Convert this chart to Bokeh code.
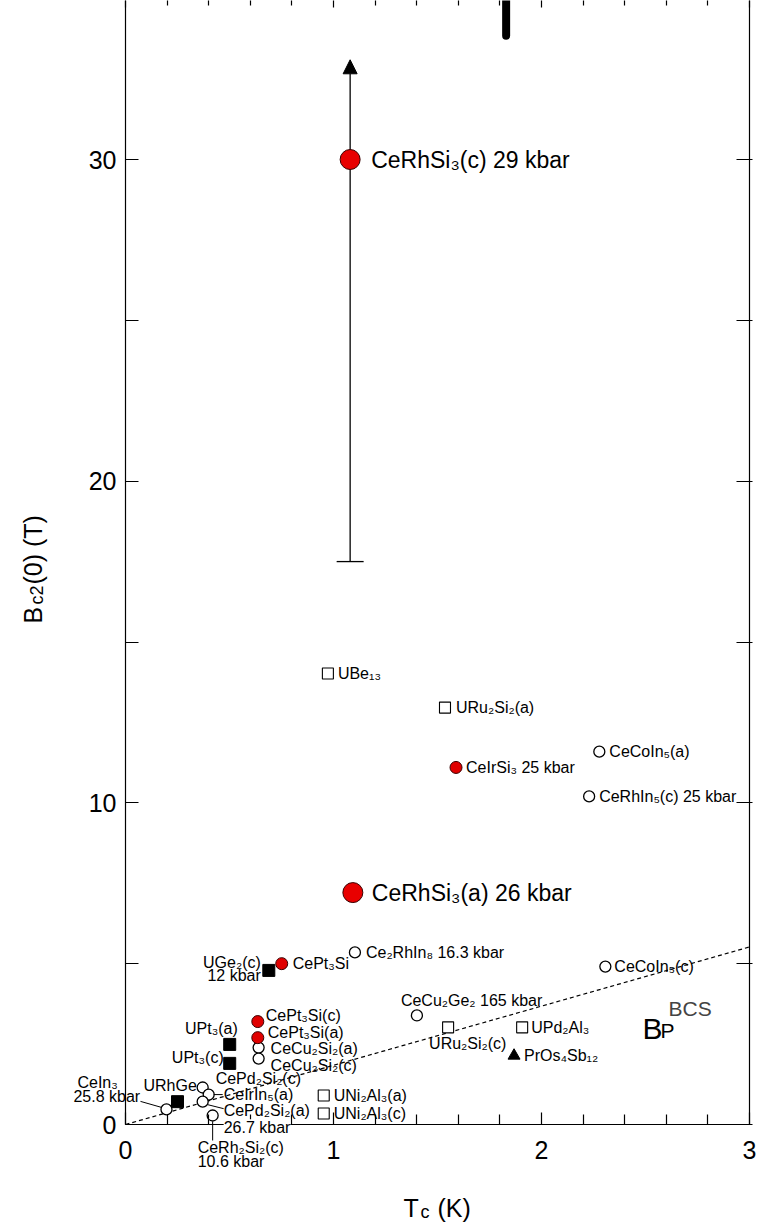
import math
from bokeh.plotting import figure
from bokeh.models import Range1d, LinearAxis, FixedTicker, Label, Arrow, NormalHead
from bokeh.embed import file_html
from bokeh.resources import INLINE

# ---------------- data ----------------
x_axis_span = [0.0, 3.0]          # Tc (K) axis extent
y_axis_span = [0.0, 35.1]         # Bc2(0) (T) axis extent (top is cut in the reference)
x_major_ticks = [0, 1, 2, 3]
x_minor_ticks = [0.2, 0.4, 0.6, 0.8, 1.2, 1.4, 1.6, 1.8, 2.2, 2.4, 2.6, 2.8]
y_major_ticks = [0, 10, 20, 30]
y_minor_ticks = [5, 15, 25, 35]

big_red_label = ["CeRhSi₃(c) 29 kbar", "CeRhSi₃(a) 26 kbar"]
big_red_tc = [1.08, 1.093]
big_red_bc2 = [30.0, 7.21]

arrow_tc = [1.08]
arrow_low = [17.5]
arrow_high = [33.1]

small_red_label = ["CeIrSi₃ 25 kbar", "CePt₃Si", "CePt₃Si(c)", "CePt₃Si(a)"]
small_red_tc = [1.589, 0.751, 0.636, 0.636]
small_red_bc2 = [11.10, 5.00, 3.20, 2.70]

open_circle_label = ["CeCoIn₅(a)", "CeRhIn₅(c) 25 kbar", "Ce₂RhIn₈ 16.3 kbar", "CeCoIn₅(c)",
                     "CeCu₂Ge₂ 165 kbar", "CeCu₂Si₂(a)", "CeCu₂Si₂(c)", "CePd₂Si₂(c)",
                     "CeIrIn₅(a)", "CePd₂Si₂(a)\n26.7 kbar", "CeRh₂Si₂(c)\n10.6 kbar", "CeIn₃\n25.8 kbar"]
open_circle_tc = [2.278, 2.229, 1.103, 2.307, 1.401, 0.640, 0.640, 0.371, 0.400, 0.371, 0.419, 0.197]
open_circle_bc2 = [11.59, 10.20, 5.35, 4.91, 3.39, 2.39, 2.05, 1.15, 0.93, 0.71, 0.28, 0.47]

open_square_label = ["UBe₁₃", "URu₂Si₂(a)", "URu₂Si₂(c)", "UPd₂Al₃", "UNi₂Al₃(a)", "UNi₂Al₃(c)"]
open_square_tc = [0.973, 1.536, 1.551, 1.907, 0.953, 0.953]
open_square_bc2 = [14.02, 12.96, 3.02, 3.02, 0.90, 0.34]

black_square_label = ["UGe₂(c)\n12 kbar", "UPt₃(a)", "UPt₃(c)", "URhGe"]
black_square_tc = [0.689, 0.501, 0.501, 0.250]
black_square_bc2 = [4.79, 2.49, 1.90, 0.71]

triangle_label = ["PrOs₄Sb₁₂"]
triangle_tc = [1.868]
triangle_bc2 = [2.14]

bcs_tc = [0.0, 3.0]
bcs_bc2 = [0.0, 5.52]

offchart_tc = [1.83]
offchart_bc2 = [33.85]

# ---------------- layout / style ----------------
FONT = "Liberation Sans"
W, H = 759, 1225
AX_LEFT_PX, AX_RIGHT_PX = 125, 749      # where Tc = 0 and Tc = 3 sit on the canvas
AX_ZERO_PX, AX_30_PX = 1124, 159        # where Bc2 = 0 and Bc2 = 30 sit on the canvas
PXX = (AX_RIGHT_PX - AX_LEFT_PX) / (x_axis_span[1] - x_axis_span[0])
PXY = (AX_ZERO_PX - AX_30_PX) / 30.0
x_lo, x_hi = -AX_LEFT_PX / PXX, (W - AX_LEFT_PX) / PXX
y_lo, y_hi = -(H - AX_ZERO_PX) / PXY, AX_ZERO_PX / PXY

# alignment, font size, one (dx, dy) pixel offset per text line (dy positive = down)
label_layout = {
    "CeRhSi₃(c) 29 kbar": ("left", "23px", [(21, 0)]),
    "CeRhSi₃(a) 26 kbar": ("left", "23px", [(19, 0)]),
    "CeIrSi₃ 25 kbar": ("left", "16px", [(10, 0)]),
    "CePt₃Si": ("left", "16px", [(11, 0)]),
    "CePt₃Si(c)": ("left", "16px", [(8, -6)]),
    "CePt₃Si(a)": ("left", "16px", [(10, -5)]),
    "CeCoIn₅(a)": ("left", "16px", [(10, 0)]),
    "CeRhIn₅(c) 25 kbar": ("left", "16px", [(10, 0)]),
    "Ce₂RhIn₈ 16.3 kbar": ("left", "16px", [(11, 0)]),
    "CeCoIn₅(c)": ("left", "16px", [(9, 0)]),
    "CeCu₂Ge₂ 165 kbar": ("left", "16px", [(-16, -15)]),
    "CeCu₂Si₂(a)": ("left", "16px", [(12, 1)]),
    "CeCu₂Si₂(c)": ("left", "16px", [(12, 7)]),
    "CePd₂Si₂(c)": ("left", "16px", [(13, -9)]),
    "CeIrIn₅(a)": ("left", "16px", [(15, 0)]),
    "CePd₂Si₂(a)\n26.7 kbar": ("left", "16px", [(21, 9), (21, 26)]),
    "CeRh₂Si₂(c)\n10.6 kbar": ("left", "16px", [(-15, 32), (-15, 46)]),
    "CeIn₃\n25.8 kbar": ("left", "16px", [(-89, -27), (-93, -13)]),
    "UBe₁₃": ("left", "16px", [(10, 0)]),
    "URu₂Si₂(a)": ("left", "16px", [(11, 0)]),
    "URu₂Si₂(c)": ("left", "16px", [(-19, 16)]),
    "UPd₂Al₃": ("left", "16px", [(9, 0)]),
    "UNi₂Al₃(a)": ("left", "16px", [(10, 0)]),
    "UNi₂Al₃(c)": ("left", "16px", [(10, 0)]),
    "UGe₂(c)\n12 kbar": ("right", "16px", [(-8, -8), (-8, 5)]),
    "UPt₃(a)": ("right", "16px", [(8, -16)]),
    "UPt₃(c)": ("right", "16px", [(-6, -6)]),
    "URhGe": ("left", "16px", [(-34, -16)]),
    "PrOs₄Sb₁₂": ("left", "16px", [(10, 0)]),
}
white_box_lines = {"26.7 kbar"}

# leader lines: (dx0, dy0, dx1, dy1) pixel offsets from the point
leader_layout = {
    "CeIrIn₅(a)": (5, 0, 14, 0),
    "CePd₂Si₂(a)\n26.7 kbar": (5, 3, 21, 7),
    "CeRh₂Si₂(c)\n10.6 kbar": (0, 6, 0, 25),
    "CeIn₃\n25.8 kbar": (-26, -8, -5, -2),
}

p = figure(width=W, height=H, x_range=Range1d(x_lo, x_hi), y_range=Range1d(y_lo, y_hi),
           output_backend="svg", toolbar_location=None, min_border=0,
           x_axis_type=None, y_axis_type=None)
p.background_fill_color = "white"
p.border_fill_color = "white"
p.outline_line_color = None
p.grid.visible = False

bottom_ax = LinearAxis(ticker=FixedTicker(ticks=x_major_ticks, minor_ticks=x_minor_ticks),
                       fixed_location=y_axis_span[0], bounds=tuple(x_axis_span))
top_ax = LinearAxis(ticker=FixedTicker(ticks=x_major_ticks, minor_ticks=x_minor_ticks),
                    fixed_location=y_axis_span[1], bounds=tuple(x_axis_span))
left_ax = LinearAxis(ticker=FixedTicker(ticks=y_major_ticks, minor_ticks=y_minor_ticks),
                     fixed_location=x_axis_span[0], bounds=tuple(y_axis_span))
right_ax = LinearAxis(ticker=FixedTicker(ticks=y_major_ticks, minor_ticks=y_minor_ticks),
                      fixed_location=x_axis_span[1], bounds=tuple(y_axis_span))
p.add_layout(bottom_ax, "below")
p.add_layout(left_ax, "left")
p.add_layout(top_ax, "above")
p.add_layout(right_ax, "right")

for ax in [bottom_ax, left_ax, top_ax, right_ax]:
    ax.axis_line_color = "black"
    ax.axis_line_width = 1.2
    ax.major_tick_line_color = "black"
    ax.minor_tick_line_color = "black"
    ax.major_tick_line_width = 1.2
    ax.minor_tick_line_width = 1.2
    ax.major_tick_out = 0
    ax.minor_tick_out = 0
    ax.major_label_text_font = FONT
    ax.major_label_text_font_size = "25px"
    ax.major_label_text_font_style = "normal"
    ax.major_label_text_color = "black"
for ax in [bottom_ax, top_ax]:
    ax.major_tick_in = 12
    ax.minor_tick_in = 10
for ax in [left_ax, right_ax]:
    ax.major_tick_in = 13
    ax.minor_tick_in = 13
right_ax.major_tick_out = 3
right_ax.minor_tick_out = 3
bottom_ax.major_label_standoff = 16
left_ax.major_label_standoff = 9
for ax in [top_ax, right_ax]:
    ax.major_label_text_font_size = "0px"
    ax.major_label_text_color = None
    ax.major_label_standoff = 0

# BCS Pauli limit line
p.line(bcs_tc, bcs_bc2, line_color="black", line_width=1.2, line_dash="4 3")

# arrow (lower bound) for CeRhSi3(c)
p.add_layout(Arrow(x_start=arrow_tc[0], y_start=arrow_low[0], x_end=arrow_tc[0], y_end=arrow_high[0],
                   line_color="black", line_width=1.3, level="underlay",
                   end=NormalHead(size=14, fill_color="black", line_color="black")))
p.scatter(arrow_tc, arrow_low, marker="dash", size=27, line_color="black", line_width=1.3)

# off-chart mark at top
p.segment(offchart_tc, offchart_bc2, offchart_tc, [y_hi + 1], line_color="black",
          line_width=8, line_cap="round")

# markers
p.scatter(open_circle_tc, open_circle_bc2, marker="circle", size=11, fill_color="white",
          line_color="black", line_width=1.3)
p.scatter(open_square_tc, open_square_bc2, marker="square", size=11, fill_color="white",
          line_color="black", line_width=1.1)
p.scatter(black_square_tc, black_square_bc2, marker="square", size=12, fill_color="black",
          line_color="black")
p.scatter(triangle_tc, triangle_bc2, marker="triangle", size=12, fill_color="black",
          line_color="black")
p.scatter(small_red_tc, small_red_bc2, marker="circle", size=12, fill_color="#e00000",
          line_color="#3a0000", line_width=1)
p.scatter(big_red_tc, big_red_bc2, marker="circle", size=20, fill_color="#e80000",
          line_color="#3a0000", line_width=1)


def place(xv, yv, dx, dy):
    return xv + dx / PXX, yv - dy / PXY


groups = [
    (big_red_label, big_red_tc, big_red_bc2),
    (small_red_label, small_red_tc, small_red_bc2),
    (open_circle_label, open_circle_tc, open_circle_bc2),
    (open_square_label, open_square_tc, open_square_bc2),
    (black_square_label, black_square_tc, black_square_bc2),
    (triangle_label, triangle_tc, triangle_bc2),
]
for names, xs, ys in groups:
    for name, xv, yv in zip(names, xs, ys):
        if name in leader_layout:
            dx0, dy0, dx1, dy1 = leader_layout[name]
            x0, y0 = place(xv, yv, dx0, dy0)
            x1, y1 = place(xv, yv, dx1, dy1)
            p.add_layout(Arrow(x_start=x0, y_start=y0, x_end=x1, y_end=y1, end=None,
                               line_color="black", line_width=1))
        align, fsize, offs = label_layout[name]
        for line, (dx, dy) in zip(name.split("\n"), offs):
            lx, ly = place(xv, yv, dx, dy)
            kw = {}
            if line in white_box_lines:
                kw = dict(background_fill_color="white", background_fill_alpha=1.0)
            p.add_layout(Label(x=lx, y=ly, text=line, text_font=FONT, text_font_size=fsize,
                               text_align=align, text_baseline="middle", text_color="black", **kw))


def px_to_data(px, py):
    return (px - AX_LEFT_PX) / PXX, (AX_ZERO_PX - py) / PXY


# B_P^BCS annotation
for txt, (px, py), fs, col in [("B", (642, 1028), "30px", "black"),
                               ("P", (660, 1030), "21px", "black"),
                               ("BCS", (668, 1008), "21px", "#444444")]:
    x, y = px_to_data(px, py)
    p.add_layout(Label(x=x, y=y, text=txt, text_font=FONT, text_font_size=fs, text_color=col,
                       text_align="left", text_baseline="alphabetic"))

# y axis title  B_c2(0) (T)
for txt, (px, py), fs in [("B", (32, 623), "25px"), ("c2", (36, 604), "18px"),
                          ("(0) (T)", (32, 584), "25px")]:
    x, y = px_to_data(px, py)
    p.add_layout(Label(x=x, y=y, text=txt, text_font=FONT, text_font_size=fs, text_color="black",
                       angle=math.pi / 2, text_align="left", text_baseline="alphabetic"))

# x axis title  T_c (K)
for txt, (px, py), fs in [("T", (403, 1207), "25px"), ("c", (420, 1211), "18px"),
                          ("(K)", (437, 1207), "25px")]:
    x, y = px_to_data(px, py)
    p.add_layout(Label(x=x, y=y, text=txt, text_font=FONT, text_font_size=fs, text_color="black",
                       text_align="left", text_baseline="alphabetic"))

open("out.html", "w").write(file_html(p, INLINE))
